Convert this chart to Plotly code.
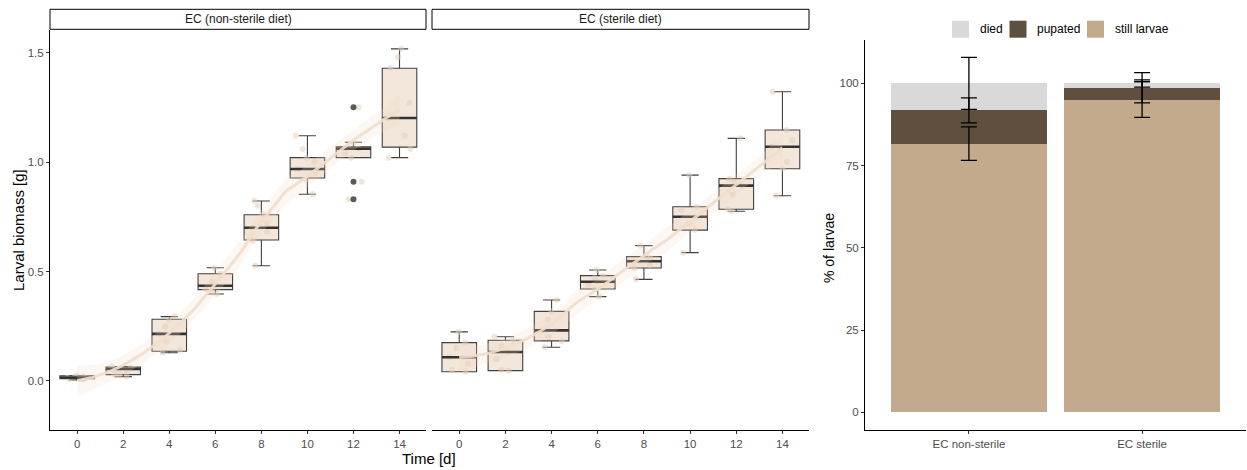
import numpy as np
import plotly.graph_objects as go

# ---------------- data ----------------
days = [0, 2, 4, 6, 8, 10, 12, 14]

# EC non-sterile diet: box statistics
ns_low = [0.005, 0.020, 0.129, 0.397, 0.526, 0.853, 1.020, 1.020]
ns_q1 = [0.010, 0.029, 0.136, 0.417, 0.644, 0.927, 1.020, 1.068]
ns_med = [0.015, 0.055, 0.215, 0.435, 0.700, 0.968, 1.061, 1.201]
ns_q3 = [0.024, 0.064, 0.282, 0.490, 0.759, 1.020, 1.070, 1.428]
ns_up = [0.025, 0.066, 0.294, 0.517, 0.822, 1.120, 1.090, 1.517]
ns_out_x = [12, 12, 12]
ns_out_y = [1.25, 0.91, 0.83]

# EC non-sterile diet: individual measurements
ns_pts = {
    0: [0.005, 0.010, 0.012, 0.015, 0.018, 0.022, 0.025],
    2: [0.020, 0.030, 0.045, 0.055, 0.060, 0.065, 0.025],
    4: [0.130, 0.140, 0.180, 0.215, 0.250, 0.280, 0.295],
    6: [0.397, 0.410, 0.420, 0.435, 0.450, 0.490, 0.517],
    8: [0.526, 0.640, 0.680, 0.700, 0.720, 0.760, 0.800, 0.822],
    10: [0.853, 0.920, 0.950, 0.968, 1.000, 1.020, 1.060, 1.120],
    12: [0.830, 0.910, 1.020, 1.040, 1.061, 1.070, 1.090, 1.250],
    14: [1.020, 1.060, 1.120, 1.200, 1.270, 1.430, 1.480, 1.517],
}

# EC sterile diet: box statistics
st_low = [0.042, 0.047, 0.154, 0.385, 0.464, 0.586, 0.775, 0.846]
st_q1 = [0.042, 0.047, 0.183, 0.420, 0.516, 0.689, 0.784, 0.969]
st_med = [0.108, 0.132, 0.231, 0.453, 0.547, 0.750, 0.892, 1.070]
st_q3 = [0.175, 0.186, 0.318, 0.481, 0.568, 0.796, 0.924, 1.146]
st_up = [0.224, 0.202, 0.370, 0.507, 0.618, 0.940, 1.108, 1.321]

st_pts = {
    0: [0.042, 0.050, 0.080, 0.108, 0.150, 0.175, 0.224],
    2: [0.047, 0.050, 0.100, 0.132, 0.160, 0.186, 0.202],
    4: [0.154, 0.183, 0.200, 0.231, 0.280, 0.318, 0.370],
    6: [0.385, 0.420, 0.440, 0.453, 0.470, 0.481, 0.507],
    8: [0.464, 0.516, 0.530, 0.547, 0.560, 0.568, 0.618],
    10: [0.586, 0.689, 0.720, 0.750, 0.780, 0.796, 0.940],
    12: [0.775, 0.784, 0.850, 0.892, 0.910, 0.924, 1.108],
    14: [0.846, 0.969, 1.000, 1.070, 1.100, 1.146, 1.321],
}

# Fate of larvae (%)
groups = ["EC non-sterile", "EC sterile"]
still_larvae = [81.7, 95.1]
pupated = [10.1, 3.6]
died = [8.2, 1.3]
still_err = [5.1, 5.4]
pupated_err = [3.8, 4.6]
died_err = [7.9, 1.1]

x_ticks = [0, 2, 4, 6, 8, 10, 12, 14]
y_ticks_bio = [0.0, 0.5, 1.0, 1.5]
y_ticks_pct = [0, 25, 50, 75, 100]

fate_names = ["still larvae", "pupated", "died"]
fate_colors = ["#c4aa8c", "#5f4f3e", "#d9d9d9"]

# ---------------- helpers ----------------
FONT = "Liberation Sans, Arial, sans-serif"
W, H = 1247, 470


def px_x(p):
    return p / W


def px_y(p):
    return (H - p) / H


def loess_fit(x, y, grid, span=0.75):
    x = np.asarray(x, float)
    y = np.asarray(y, float)
    n = len(x)
    q = int(np.floor(n * span))

    def weights_row(x0):
        d = np.abs(x - x0)
        h = np.sort(d)[q - 1]
        h = max(h, 1e-9)
        u = np.clip(d / h, 0, 1)
        w = (1 - u ** 3) ** 3
        X = np.vstack([np.ones(n), x - x0, (x - x0) ** 2]).T
        XtW = X.T * w
        A = XtW @ X
        return np.linalg.solve(A, XtW)[0]

    L = np.array([weights_row(xi) for xi in x])
    resid = y - L @ y
    M = np.eye(n) - L
    delta1 = np.trace(M.T @ M)
    sigma = np.sqrt(np.sum(resid ** 2) / delta1)
    fit, se = [], []
    for g in grid:
        l = weights_row(g)
        fit.append(l @ y)
        se.append(sigma * np.sqrt(np.sum(l ** 2)))
    return np.array(fit), np.array(se)


BOX_FILL = "#f3e6da"
BOX_LINE = "#404040"
PT_COLOR = "rgba(226,205,184,0.5)"
SMOOTH_LINE = "rgba(241,222,204,0.9)"
SMOOTH_FILL = "rgba(240,218,196,0.22)"

fig = go.Figure()

panels = [
    ("x", "y", ns_low, ns_q1, ns_med, ns_q3, ns_up, ns_pts),
    ("x2", "y2", st_low, st_q1, st_med, st_q3, st_up, st_pts),
]

grid = np.linspace(0, 14, 141)

for xa, ya, lo, q1, med, q3, up, pts in panels:
    fig.add_trace(go.Box(
        x=days, q1=q1, median=med, q3=q3, lowerfence=lo, upperfence=up,
        width=1.5, fillcolor=BOX_FILL, line=dict(color=BOX_LINE, width=1.1),
        boxpoints=False, showlegend=False, xaxis=xa, yaxis=ya, hoverinfo="skip",
    ))
    px_all, py_all = [], []
    for d in days:
        px_all += [d] * len(pts[d])
        py_all += pts[d]
    fig.add_trace(go.Box(
        x=px_all, y=py_all, width=1.5, boxpoints="all", jitter=0.7, pointpos=0,
        fillcolor="rgba(0,0,0,0)", line=dict(width=0, color="rgba(0,0,0,0)"),
        marker=dict(color=PT_COLOR, size=6), showlegend=False,
        xaxis=xa, yaxis=ya, hoverinfo="skip",
    ))
    fig.add_trace(go.Scatter(
        x=days, y=med, mode="markers", xaxis=xa, yaxis=ya, showlegend=False,
        marker=dict(symbol="line-ew", size=24.7,
                    line=dict(color="#333333", width=2.6)),
        hoverinfo="skip",
    ))
    fit, se = loess_fit(px_all, py_all, grid)
    fig.add_trace(go.Scatter(
        x=np.concatenate([grid, grid[::-1]]),
        y=np.concatenate([fit + 2.0 * se, (fit - 2.0 * se)[::-1]]),
        fill="toself", fillcolor=SMOOTH_FILL, line=dict(width=0),
        mode="lines", showlegend=False, xaxis=xa, yaxis=ya, hoverinfo="skip",
    ))
    fig.add_trace(go.Scatter(
        x=grid, y=fit, mode="lines", line=dict(color=SMOOTH_LINE, width=3),
        showlegend=False, xaxis=xa, yaxis=ya, hoverinfo="skip",
    ))

fig.add_trace(go.Scatter(
    x=ns_out_x, y=ns_out_y, mode="markers",
    marker=dict(color="#5a5a5a", size=6), showlegend=False,
    xaxis="x", yaxis="y", hoverinfo="skip",
))

# stacked bars
for name, vals, col in zip(fate_names, [still_larvae, pupated, died], fate_colors):
    fig.add_trace(go.Bar(
        x=groups, y=vals, name=name, marker=dict(color=col, line=dict(width=0)),
        width=0.9, xaxis="x3", yaxis="y3", showlegend=False,
    ))

tops_still = np.array(still_larvae)
tops_pup = tops_still + np.array(pupated)
tops_died = tops_pup + np.array(died)
for tops, err in [(tops_still, still_err), (tops_pup, pupated_err), (tops_died, died_err)]:
    fig.add_trace(go.Scatter(
        x=groups, y=tops, mode="markers", marker=dict(color="rgba(0,0,0,0)", size=1),
        error_y=dict(type="data", array=err, visible=True, color="black",
                     thickness=1.3, width=8),
        showlegend=False, xaxis="x3", yaxis="y3", hoverinfo="skip",
    ))

tickfont = dict(family=FONT, size=11.5, color="#4d4d4d")
common_x = dict(range=[-1.18, 15.15], tickvals=x_ticks, showgrid=False, zeroline=False,
                showline=True, linecolor="black", linewidth=1, ticks="outside",
                ticklen=3, tickcolor="#333333", tickfont=tickfont)
ydom = [px_y(430), px_y(30)]

fig.update_layout(
    width=W, height=H, margin=dict(l=0, r=0, t=0, b=0),
    paper_bgcolor="white", plot_bgcolor="white",
    barmode="stack", showlegend=False,
    xaxis=dict(domain=[px_x(50), px_x(426)], anchor="y", **common_x),
    xaxis2=dict(domain=[px_x(432), px_x(809)], anchor="y2", **common_x),
    yaxis=dict(domain=ydom, anchor="x", range=[-0.224, 1.603], tickvals=y_ticks_bio,
               tickformat=".1f", showgrid=False, zeroline=False, showline=True,
               linecolor="black", linewidth=1, ticks="outside", ticklen=3,
               tickcolor="#333333", tickfont=tickfont),
    yaxis2=dict(domain=ydom, anchor="x2", range=[-0.224, 1.603], showgrid=False,
                zeroline=False, showline=False, showticklabels=False, ticks=""),
    xaxis3=dict(domain=[px_x(865), px_x(1246)], anchor="y3", type="category",
                range=[-0.6, 1.6], showgrid=False, zeroline=False, showline=True,
                linecolor="black", linewidth=1, ticks="outside", ticklen=3,
                tickcolor="#333333", tickfont=tickfont),
    yaxis3=dict(domain=[px_y(430), px_y(40)], anchor="x3", range=[-5.38, 113.2],
                tickvals=y_ticks_pct, showgrid=False, zeroline=False, showline=True,
                linecolor="black", linewidth=1, ticks="outside", ticklen=3,
                tickcolor="#333333", tickfont=tickfont),
    font=dict(family=FONT),
)

# legend (ggplot-style keys) : died, pupated, still larvae
legend_order = [2, 1, 0]
key_left = [952, 1009.5, 1087]
for idx, kx in zip(legend_order, key_left):
    fig.add_shape(type="rect", xref="paper", yref="paper",
                  x0=px_x(kx), x1=px_x(kx + 17), y0=px_y(37.7), y1=px_y(20.7),
                  line=dict(width=0), fillcolor=fate_colors[idx])
    fig.add_annotation(xref="paper", yref="paper", x=px_x(kx + 25.5), y=px_y(29.5),
                       xanchor="left", yanchor="middle", text=fate_names[idx],
                       showarrow=False, font=dict(family=FONT, size=12, color="black"))

# facet strips
for (x0, x1, label) in [(50, 426, "EC (non-sterile diet)"), (432, 809, "EC (sterile diet)")]:
    fig.add_shape(type="rect", xref="paper", yref="paper",
                  x0=px_x(x0), x1=px_x(x1), y0=px_y(29.3), y1=px_y(9.3),
                  line=dict(color="black", width=1), fillcolor="white")
    fig.add_annotation(xref="paper", yref="paper", x=px_x((x0 + x1) / 2), y=px_y(19.3),
                       xanchor="center", yanchor="middle",
                       text=label, showarrow=False,
                       font=dict(family=FONT, size=12, color="#1a1a1a"))

fig.add_annotation(xref="paper", yref="paper", x=px_x(18), y=px_y(230),
                   xanchor="center", yanchor="middle",
                   text="Larval biomass [g]", textangle=-90, showarrow=False,
                   font=dict(family=FONT, size=15, color="black"))
fig.add_annotation(xref="paper", yref="paper", x=px_x(429), y=px_y(458),
                   xanchor="center", yanchor="middle",
                   text="Time [d]", showarrow=False,
                   font=dict(family=FONT, size=15, color="black"))
fig.add_annotation(xref="paper", yref="paper", x=px_x(829), y=px_y(248),
                   xanchor="center", yanchor="middle",
                   text="% of larvae", textangle=-90, showarrow=False,
                   font=dict(family=FONT, size=14, color="black"))

fig.write_html("out.html", config={"displayModeBar": False},
               post_script="document.body.style.margin='0';document.body.style.padding='0';")
